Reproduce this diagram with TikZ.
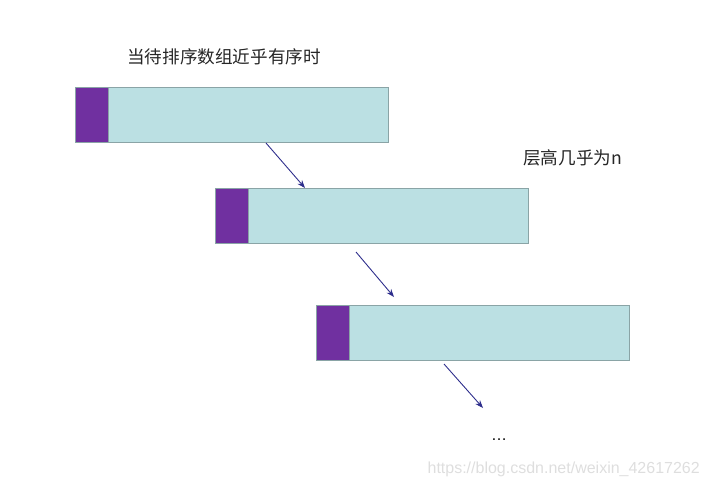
\documentclass[tikz,border=0pt]{standalone}
\usepackage{fontspec}
\setmainfont{Liberation Sans}
\newfontfamily\cjk{Noto Sans CJK SC}
\usetikzlibrary{arrows.meta}
\definecolor{barfill}{HTML}{BBE0E3}
\definecolor{barline}{HTML}{8AA4A6}
\definecolor{headfill}{HTML}{7030A0}
\definecolor{arrowcol}{HTML}{2E2E8C}
\tikzset{
  bar/.style={draw=barline, fill=barfill, line width=1pt, minimum width=313pt, minimum height=55pt, anchor=north west, inner sep=0pt, outer sep=0pt},
  head/.style={draw=barline, fill=headfill, line width=1pt, minimum width=33pt, minimum height=55pt, anchor=north west, inner sep=0pt, outer sep=0pt},
  flow/.style={draw=arrowcol, line width=0.9pt, -{Stealth[length=8pt,width=6pt]}},
  label/.style={font=\cjk\fontsize{17.6}{20}\selectfont, text=black!85, inner sep=0pt},
}
\begin{document}
\begin{tikzpicture}[x=1pt,y=-1pt]
\useasboundingbox (0,0) rectangle (709,488);
\node[label] (t1) at (224,57) {当待排序数组近乎有序时};
\node[bar] (b1) at (75.5,87.5) {};
\node[head] (h1) at (75.5,87.5) {};
\node[label, anchor=west] (t2) at (523,158) {层高几乎为n};
\node[bar] (b2) at (215.5,188.5) {};
\node[head] (h2) at (215.5,188.5) {};
\node[bar] (b3) at (316.5,305.5) {};
\node[head] (h3) at (316.5,305.5) {};
\node[font=\fontsize{16}{18}\selectfont, inner sep=0pt] (dots) at (499,440) {\dots};
\node[font=\fontsize{16}{18}\selectfont, text=black!13, anchor=east, inner sep=0pt] (wm) at (700,469) {https://blog.csdn.net/weixin\_42617262};
\coordinate (a1s) at (266,143);
\coordinate (a1e) at (305,188);
\coordinate (a2s) at (356,252);
\coordinate (a2e) at (394,297);
\coordinate (a3s) at (444,364);
\coordinate (a3e) at (483,408);
\draw[flow] (a1s) -- (a1e);
\draw[flow] (a2s) -- (a2e);
\draw[flow] (a3s) -- (a3e);
\end{tikzpicture}
\end{document}
